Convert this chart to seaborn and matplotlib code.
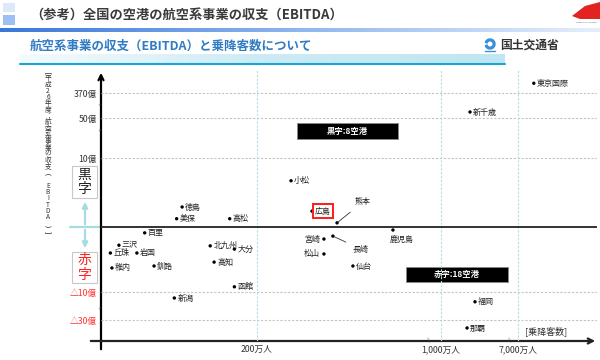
import numpy as np
import pandas as pd
import matplotlib
matplotlib.use("Agg")
import matplotlib.pyplot as plt
from matplotlib.patches import Rectangle, Polygon, Wedge
import seaborn as sns

sns.set_style("white")
plt.rcParams["font.family"] = ["Noto Sans CJK JP", "DejaVu Sans"]

# airports: passengers (万人), EBITDA (億円)
airports = ["東京国際", "新千歳", "小松", "広島", "熊本", "徳島", "美保", "高松",
            "鹿児島", "宮崎", "長崎", "松山", "仙台", "百里", "三沢", "丘珠",
            "岩国", "稚内", "釧路", "新潟", "北九州", "大分", "高知", "函館",
            "福岡", "那覇"]
passengers = [7200, 3260, 348, 439, 548, 104, 97, 165,
              791, 491, 530, 491, 617, 56, 23, 12,
              46, 14, 68, 94, 140, 171, 145, 171,
              3650, 3030]
ebitda = [510, 127, 6.7, 2.3, 0.6, 2.9, 1.2, 1.2,
          -0.46, -1.85, -1.4, -4.15, -6.0, -0.9, -2.8, -4.0,
          -4.0, -6.3, -6.0, -14.3, -2.9, -3.4, -5.4, -9.2,
          -17.0, -35.7]

y_ticks = [370, 50, 10, -10, -30]
y_labels = ["370億", "50億", "10億", "△10億", "△30億"]
x_ticks = [200, 1000, 7000]
x_labels = ["200万人", "1,000万人", "7,000万人"]

df = pd.DataFrame({"airport": airports, "passengers": passengers, "ebitda": ebitda})

# broken (piecewise linear) axes
XD = [-1000, 0, 200, 1000, 7000, 8000, 100000]
XP = [-679, 101, 257, 441, 518, 597, 7957]
YD = [-1000, -45, -30, -10, 0, 10, 50, 370, 700, 10000]
YP = [-1678, -341, -320, -292, -227, -158, -118, -93, -70, 581]


def xf(v):
    return np.interp(v, XD, XP)


def xi(v):
    return np.interp(v, XP, XD)


def yf(v):
    return np.interp(v, YD, YP)


def yi(v):
    return np.interp(v, YP, YD)


fig = plt.figure(figsize=(6, 3.6), dpi=100)

# decoration layer in pixel coordinates
bg = fig.add_axes([0, 0, 1, 1])
bg.set_xlim(0, 600)
bg.set_ylim(360, 0)
bg.axis("off")

# header
bg.add_patch(Rectangle((3, 3), 12, 9, color="#dde9fb", lw=0))
bg.add_patch(Rectangle((3, 15), 12, 10, color="#9cc0f5", lw=0))
bg.text(30, 15, "（参考）全国の空港の航空系事業の収支（EBITDA）", fontsize=9.5,
        color="#3a3a3a", va="center", ha="left", fontweight="bold")
grad = np.linspace(0, 1, 256).reshape(1, -1)
bg.imshow(grad, extent=[0, 600, 32.5, 29], cmap=matplotlib.colors.LinearSegmentedColormap.from_list(
    "h", ["#3a78d8", "#8fb6ee", "#e6eefb"]), aspect="auto", zorder=1)
bg.text(30, 46, "航空系事業の収支（EBITDA）と乗降客数について", fontsize=9,
        color="#2f7bc4", va="center", ha="left", fontweight="bold")
bg.imshow(grad, extent=[20, 505, 63, 54], cmap=matplotlib.colors.LinearSegmentedColormap.from_list(
    "b", ["#f4fbfd", "#cdebf4", "#bfe6f2"]), aspect="auto", zorder=1)
bg.plot([20, 505], [64, 64], color="#19a6d6", lw=1.5)
bg.add_patch(Wedge((490, 44), 5, 200, 520, width=1.8, color="#3a8fd8"))
bg.plot([485, 495], [51, 51], color="#3a8fd8", lw=1)
bg.text(500, 45, "国土交通省", fontsize=8.5, color="#333333", va="center", ha="left",
        fontweight="bold")
bg.add_patch(Polygon([(572, 16), (585, 6), (600, 2), (600, 19), (580, 19)],
                     color="#e32222", lw=0))
bg.text(586, 23, "HIROSHIMA AIRPORT", fontsize=1.5, color="#555555", ha="center")

# axes arrows
bg.annotate("", xy=(101, 70), xytext=(101, 352),
            arrowprops=dict(arrowstyle="->", lw=1.6, color="black", mutation_scale=9))
bg.annotate("", xy=(598, 341), xytext=(88, 341),
            arrowprops=dict(arrowstyle="->", lw=1.6, color="#222222", mutation_scale=9))

# break marks
for (bx, by) in [(101, 104), (101, 130), (101, 308)]:
    bg.text(bx - 1, by, "=", fontsize=4, color="#444444", ha="center", va="center", rotation=20)
for (bx, by) in [(428, 339), (509, 339)]:
    bg.text(bx, by, "‖", fontsize=4, color="#444444", ha="center", va="center", rotation=20)

# surplus / deficit labels with cyan cross
cyan = "#a6dce0"
bg.plot([70, 101], [227, 227], color=cyan, lw=1.6)
bg.annotate("", xy=(85, 199), xytext=(85, 227),
            arrowprops=dict(arrowstyle="-|>", lw=1.6, color=cyan, mutation_scale=8))
bg.annotate("", xy=(85, 251), xytext=(85, 227),
            arrowprops=dict(arrowstyle="-|>", lw=1.6, color=cyan, mutation_scale=8))
bg.add_patch(Rectangle((72, 166), 25, 32, fc="white", ec="#c8c8c8", lw=0.8))
bg.text(84.5, 182, "黒\n字", fontsize=10, color="#222222", ha="center", va="center",
        linespacing=1.05)
bg.add_patch(Rectangle((72, 252), 25, 31, fc="white", ec="#c8c8c8", lw=0.8))
bg.text(84.5, 267.5, "赤\n字", fontsize=10, color="#ff2020", ha="center", va="center",
        linespacing=1.05)

# vertical axis title (one stacked text)
vtitle = "﹇平成26年度：航空系事業の収支︵ EBITDA ︶﹈"
bg.text(48, 154, "\n".join(vtitle), fontsize=4.8, color="#333333", ha="center",
        va="center", linespacing=0.72)

# count boxes
bg.add_patch(Rectangle((297, 123), 101, 16, fc="black", ec="#888888", lw=0.6))
bg.text(347.5, 131, "黒字:8空港", fontsize=6, color="white", ha="center", va="center",
        fontweight="bold")
bg.add_patch(Rectangle((406, 267), 102, 15, fc="black", ec="#888888", lw=0.6))
bg.text(457, 274.5, "赤字:18空港", fontsize=6, color="white", ha="center", va="center",
        fontweight="bold")
bg.text(525, 331, "[乗降客数]", fontsize=6.5, color="#333333", ha="left", va="center")

# main chart
ax = fig.add_axes([101 / 600, 19 / 360, 496 / 600, 271 / 360])
ax.patch.set_alpha(0)
sns.scatterplot(data=df, x="passengers", y="ebitda", ax=ax, color="black", s=6,
                edgecolor="none", zorder=5)
ax.set_xscale("function", functions=(xf, xi))
ax.set_yscale("function", functions=(yf, yi))
ax.set_xlim(0, 8000)
ax.set_ylim(-45, 700)

for v in y_ticks:
    ax.axhline(v, color="#c4c4c4", lw=0.8, ls=(0, (2, 1.5)), zorder=1)
for v in x_ticks:
    ax.axvline(v, color="#b3e0e8", lw=0.8, ls=(0, (2, 1.5)), zorder=1)
ax.axhline(0, color="#222222", lw=1.3, zorder=2)

ax.set_yticks(y_ticks)
ax.set_yticklabels(y_labels, fontsize=6.3)
for lab, c in zip(ax.get_yticklabels(), ["#333333"] * 3 + ["#ff3333"] * 2):
    lab.set_color(c)
ax.set_xticks(x_ticks)
ax.set_xticklabels(x_labels, fontsize=6.3, color="#333333")
ax.tick_params(axis="both", length=0)
ax.tick_params(axis="y", pad=3)
ax.tick_params(axis="x", pad=3)
ax.minorticks_off()
ax.set_xlabel("")
ax.set_ylabel("")
for s in ax.spines.values():
    s.set_visible(False)

offsets = {"宮崎": (-4, 0, "right"), "松山": (-4, 0, "right"), "鹿児島": (-3, -9, "left"),
           "熊本": (18, 21, "left"), "長崎": (20, -13, "left")}
for _, r in df.iterrows():
    dx, dy, ha = offsets.get(r["airport"], (3, 0, "left"))
    kw = {}
    if r["airport"] in ("熊本", "長崎"):
        kw["arrowprops"] = dict(arrowstyle="-", lw=0.6, color="#333333", shrinkA=3, shrinkB=1)
    if r["airport"] == "広島":
        kw["bbox"] = dict(boxstyle="square,pad=0.3", fc="white", ec="#ff1a1a", lw=1.4)
    ax.annotate(r["airport"], (r["passengers"], r["ebitda"]), xytext=(dx, dy),
                textcoords="offset pixels", fontsize=5.8, color="#222222",
                ha=ha, va="center", zorder=6, **kw)

fig.savefig("out.png", dpi=100)
